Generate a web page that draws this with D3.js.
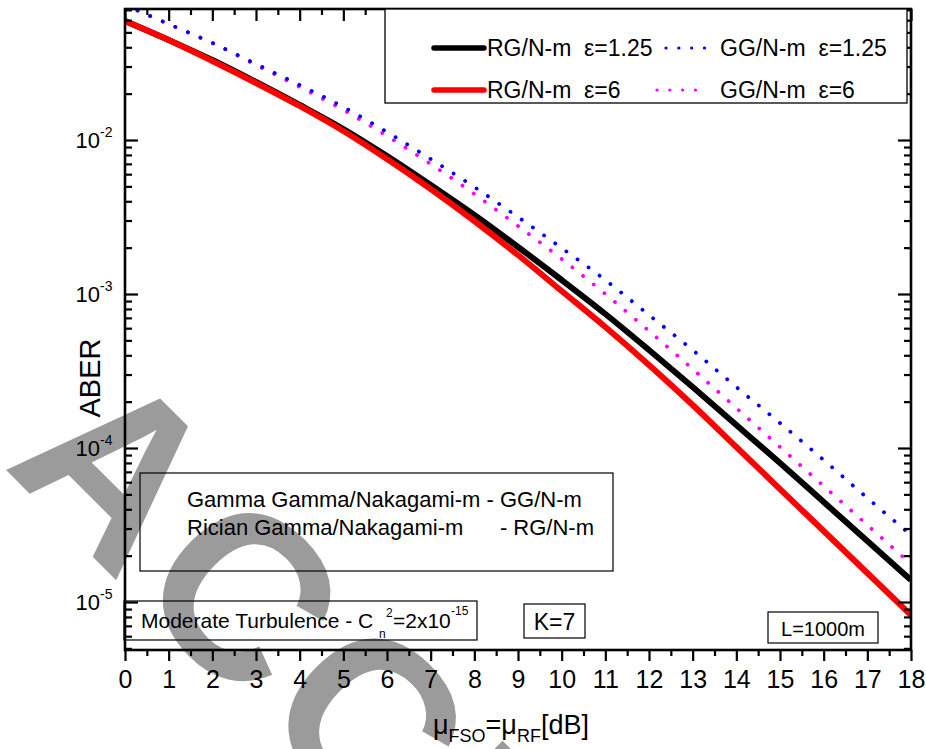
<!DOCTYPE html>
<html>
<head>
<meta charset="utf-8">
<script src="https://cdn.jsdelivr.net/npm/d3@7"></script>
<style>
  body { margin: 0; background: #fff; }
  svg { display: block; }
  text { font-family: "Liberation Sans", Arial, Helvetica, sans-serif; fill: #000; }
</style>
</head>
<body>
<svg id="chart" width="926" height="749"></svg>
<script>
// ---- data ----
const snrDb = [0,1,2,3,4,5,6,7,8,9,10,11,12,13,14,15,16,17,18];

// Rician Gamma / Nakagami-m, epsilon = 1.25
const rgEps125 = [0.0593,0.04461,0.03307,0.02380,0.01688,0.01179,0.007870,0.005103,0.003258,
  0.002020,0.001233,7.418e-4,4.329e-4,2.489e-4,1.410e-4,7.99e-5,4.461e-5,2.489e-5,1.390e-5];
// Rician Gamma / Nakagami-m, epsilon = 6
const rgEps6 = [0.0593,0.04461,0.03258,0.02346,0.01663,0.01144,0.007525,0.004806,0.002979,
  0.001791,0.001046,6.105e-4,3.459e-4,1.902e-4,1.015e-4,5.415e-5,2.891e-5,1.543e-5,8.23e-6];
// Gamma Gamma / Nakagami-m, epsilon = 1.25
const ggEps125 = [0.07524,0.05665,0.04265,0.03115,0.02276,0.01638,0.01127,0.007525,0.004952,
  0.003162,0.001989,0.001233,7.305e-4,4.329e-4,2.489e-4,1.453e-4,8.36e-5,4.735e-5,2.724e-5];
// Gamma Gamma / Nakagami-m, epsilon = 6
const ggEps6 = [0.07524,0.05665,0.04265,0.03069,0.02209,0.01566,0.01062,0.006985,0.004461,
  0.002764,0.001688,0.001,5.75e-4,3.258e-4,1.818e-4,1.015e-4,5.665e-5,3.162e-5,1.765e-5];

const xTickValues = d3.range(0, 19, 1);
const xMinorTickValues = d3.range(0.5, 18, 1);
const yMajorTicks = [1e-2, 1e-3, 1e-4, 1e-5];
const yTickExponents = ["-2", "-3", "-4", "-5"];
const legendLabels = ["RG/N-m  \u03B5=1.25", "GG/N-m  \u03B5=1.25", "RG/N-m  \u03B5=6", "GG/N-m  \u03B5=6"];

// ---- layout ----
const svg = d3.select("#chart");
const plot = { left: 125, right: 911, top: 9, bottom: 650 };
const x = d3.scaleLinear().domain([0, 18]).range([plot.left, plot.right]);
const y = d3.scaleLog().domain([4.88e-6, 0.0709]).range([plot.bottom, plot.top]);

svg.append("rect").attr("width", 926).attr("height", 749).attr("fill", "#fff");

// ---- background stamp ----
svg.append("text")
  .attr("transform", "translate(2,466) rotate(45)")
  .attr("font-size", 232)
  .attr("font-weight", "bold")
  .attr("letter-spacing", 10)
  .style("fill", "#9b9b9b")
  .text("ACCEPTED");

// ---- curves ----
svg.append("clipPath").attr("id", "plotClip")
  .append("rect")
  .attr("x", plot.left).attr("y", plot.top)
  .attr("width", plot.right - plot.left).attr("height", plot.bottom - plot.top);

const line = d3.line()
  .x((d, i) => x(snrDb[i]))
  .y(d => y(d))
  .curve(d3.curveMonotoneX);

const series = [
  { values: ggEps6,   color: "#ff00ff", dotted: true },
  { values: ggEps125, color: "#0000ff", dotted: true },
  { values: rgEps125, color: "#000000", dotted: false },
  { values: rgEps6,   color: "#ff0000", dotted: false }
];

const curves = svg.append("g").attr("clip-path", "url(#plotClip)");
series.forEach(s => {
  curves.append("path")
    .datum(s.values)
    .attr("d", line)
    .attr("fill", "none")
    .attr("stroke", s.color)
    .attr("stroke-width", s.dotted ? 3.8 : 6)
    .attr("stroke-linecap", s.dotted ? "round" : "butt")
    .attr("stroke-linejoin", "round")
    .attr("stroke-dasharray", s.dotted ? "0.1,13.6" : null);
});

// ---- axes ----
function styleAxis(g) {
  g.select(".domain").remove();
  g.selectAll(".tick line").attr("stroke", "#000").attr("stroke-width", 2.2);
}

const yMinorTicks = [];
for (let e = -6; e <= -1; e++) {
  for (let k = 2; k <= 9; k++) {
    const v = k * Math.pow(10, e);
    if (v > y.domain()[0] && v < y.domain()[1]) yMinorTicks.push(v);
  }
}

// bottom (outward ticks)
svg.append("g").attr("transform", `translate(0,${plot.bottom})`)
  .call(d3.axisBottom(x).tickValues(xTickValues).tickSize(11).tickPadding(7).tickFormat(d3.format("d")))
  .call(styleAxis)
  .call(g => g.selectAll("text").attr("font-size", 25).attr("dy", "0.8em"));
svg.append("g").attr("transform", `translate(0,${plot.bottom})`)
  .call(d3.axisBottom(x).tickValues(xMinorTickValues).tickSize(6).tickFormat(""))
  .call(styleAxis);

// top (inward ticks)
svg.append("g").attr("transform", `translate(0,${plot.top})`)
  .call(d3.axisTop(x).tickValues(xTickValues).tickSize(-12).tickFormat(""))
  .call(styleAxis);
svg.append("g").attr("transform", `translate(0,${plot.top})`)
  .call(d3.axisTop(x).tickValues(xMinorTickValues).tickSize(-6).tickFormat(""))
  .call(styleAxis);

// left (inward ticks)
svg.append("g").attr("transform", `translate(${plot.left},0)`)
  .call(d3.axisLeft(y).tickValues(yMajorTicks).tickSize(-13).tickFormat(""))
  .call(styleAxis);
svg.append("g").attr("transform", `translate(${plot.left},0)`)
  .call(d3.axisLeft(y).tickValues(yMinorTicks).tickSize(-7).tickFormat(""))
  .call(styleAxis);

// right (inward ticks)
svg.append("g").attr("transform", `translate(${plot.right},0)`)
  .call(d3.axisRight(y).tickValues(yMajorTicks).tickSize(-13).tickFormat(""))
  .call(styleAxis);
svg.append("g").attr("transform", `translate(${plot.right},0)`)
  .call(d3.axisRight(y).tickValues(yMinorTicks).tickSize(-7).tickFormat(""))
  .call(styleAxis);

// y tick labels as powers of ten
const yLab = svg.append("g");
yMajorTicks.forEach((v, i) => {
  const ty = y(v);
  yLab.append("text")
    .attr("x", 100).attr("y", ty + 8)
    .attr("text-anchor", "end")
    .attr("font-size", 22)
    .text("10");
  yLab.append("text")
    .attr("x", 100).attr("y", ty - 3)
    .attr("font-size", 14)
    .text(yTickExponents[i]);
});

// frame
svg.append("rect")
  .attr("x", plot.left).attr("y", plot.top)
  .attr("width", plot.right - plot.left).attr("height", plot.bottom - plot.top)
  .attr("fill", "none").attr("stroke", "#000").attr("stroke-width", 2.6);

// axis titles
svg.append("text")
  .attr("transform", "translate(100,378) rotate(-90)")
  .attr("text-anchor", "middle")
  .attr("font-size", 29)
  .text("ABER");

const xt = svg.append("text").attr("x", 433).attr("y", 734).attr("font-size", 27);
xt.append("tspan").text("\u03BC");
xt.append("tspan").attr("font-size", 18).attr("dy", 8).text("FSO");
xt.append("tspan").attr("dy", -8).text("=\u03BC");
xt.append("tspan").attr("font-size", 18).attr("dy", 8).text("RF");
xt.append("tspan").attr("dy", -8).text("[dB]");

// ---- legend ----
svg.append("rect")
  .attr("x", 385).attr("y", plot.top).attr("width", 522).attr("height", 94)
  .attr("fill", "#fff").attr("stroke", "#000").attr("stroke-width", 1.3);

const legendItems = [
  { s: series[2], label: legendLabels[0], x0: 434, x1: 484, tx: 487, y: 48 },
  { s: series[1], label: legendLabels[1], x0: 666, x1: 717, tx: 720, y: 48 },
  { s: series[3], label: legendLabels[2], x0: 434, x1: 484, tx: 487, y: 90 },
  { s: series[0], label: legendLabels[3], x0: 657, x1: 707, tx: 720, y: 90 }
];
legendItems.forEach(it => {
  svg.append("line")
    .attr("x1", it.x0).attr("x2", it.x1).attr("y1", it.y).attr("y2", it.y)
    .attr("stroke", it.s.color)
    .attr("stroke-width", it.s.dotted ? 3.2 : 5.5)
    .attr("stroke-linecap", "round")
    .attr("stroke-dasharray", it.s.dotted ? "0.1,12.7" : null);
  svg.append("text")
    .attr("x", it.tx).attr("y", it.y + 8)
    .attr("font-size", 23)
    .style("white-space", "pre")
    .text(it.label);
});

// ---- annotation boxes ----
svg.append("rect")
  .attr("x", 140).attr("y", 473).attr("width", 473).attr("height", 98)
  .attr("fill", "none").attr("stroke", "#000").attr("stroke-width", 1.2);
svg.append("text").attr("x", 187).attr("y", 507).attr("font-size", 22)
  .text("Gamma Gamma/Nakagami-m - GG/N-m");
svg.append("text").attr("x", 187).attr("y", 535).attr("font-size", 22)
  .text("Rician Gamma/Nakagami-m");
svg.append("text").attr("x", 594).attr("y", 535).attr("font-size", 22)
  .attr("text-anchor", "end")
  .text("- RG/N-m");

svg.append("rect")
  .attr("x", 124).attr("y", 601).attr("width", 353).attr("height", 39)
  .attr("fill", "none").attr("stroke", "#000").attr("stroke-width", 1.2);
svg.append("text").attr("x", 141).attr("y", 628).attr("font-size", 21)
  .text("Moderate Turbulence - C");
svg.append("text").attr("x", 379).attr("y", 638).attr("font-size", 12).text("n");
svg.append("text").attr("x", 386).attr("y", 617).attr("font-size", 12).text("2");
svg.append("text").attr("x", 393).attr("y", 628).attr("font-size", 21).text("=2x10");
svg.append("text").attr("x", 451).attr("y", 615).attr("font-size", 12).text("-15");

svg.append("rect")
  .attr("x", 524).attr("y", 604).attr("width", 61).attr("height", 34)
  .attr("fill", "none").attr("stroke", "#000").attr("stroke-width", 1.2);
svg.append("text").attr("x", 554.5).attr("y", 630).attr("font-size", 23)
  .attr("text-anchor", "middle").text("K=7");

svg.append("rect")
  .attr("x", 768).attr("y", 612).attr("width", 110).attr("height", 31)
  .attr("fill", "none").attr("stroke", "#000").attr("stroke-width", 1.2);
svg.append("text").attr("x", 823).attr("y", 636).attr("font-size", 20)
  .attr("text-anchor", "middle").text("L=1000m");
</script>
</body>
</html>
